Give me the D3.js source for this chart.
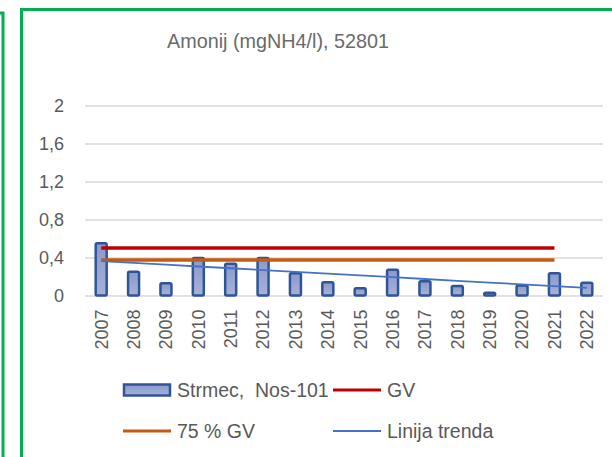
<!DOCTYPE html>
<html>
<head>
<meta charset="utf-8">
<script src="https://cdn.jsdelivr.net/npm/d3@7"></script>
<style>
  body { margin: 0; background: #fff; }
  svg { display: block; font-family: "Liberation Sans", Arial, sans-serif; }
  text { white-space: pre; }
</style>
</head>
<body>
<div id="chart"></div>
<script>
// data
const years = ["2007", "2008", "2009", "2010", "2011", "2012", "2013", "2014",
               "2015", "2016", "2017", "2018", "2019", "2020", "2021", "2022"];
const strmec = [0.55, 0.25, 0.13, 0.395, 0.335, 0.395, 0.235, 0.14,
                0.077, 0.27, 0.15, 0.10, 0.03, 0.105, 0.235, 0.135];
const gv = [0.5, 0.5, 0.5, 0.5, 0.5, 0.5, 0.5, 0.5, 0.5, 0.5, 0.5, 0.5, 0.5, 0.5, 0.5, null];
const gv75 = [0.375, 0.375, 0.375, 0.375, 0.375, 0.375, 0.375, 0.375, 0.375, 0.375, 0.375, 0.375, 0.375, 0.375, 0.375, null];
const yTicks = [0, 0.4, 0.8, 1.2, 1.6, 2];

const W = 612, H = 457;
const margin = {top: 105.5, right: 9, bottom: 161.5, left: 85};
const width = W - margin.left - margin.right;
const height = H - margin.top - margin.bottom;

const svg = d3.select("#chart").append("svg")
  .attr("width", W)
  .attr("height", H);

// green frames
svg.append("path")
  .attr("d", "M0,13 H3 V470")
  .attr("fill", "none").attr("stroke", "#00b050").attr("stroke-width", 3);
svg.append("path")
  .attr("d", "M21.5,470 V9.5 H620")
  .attr("fill", "none").attr("stroke", "#00b050").attr("stroke-width", 3);

svg.append("text")
  .attr("x", 278).attr("y", 48)
  .attr("text-anchor", "middle")
  .attr("font-size", 19.8)
  .attr("fill", "#6a6a6a")
  .text("Amonij (mgNH4/l), 52801");

const g = svg.append("g")
  .attr("transform", "translate(" + margin.left + "," + margin.top + ")");

const xScale = d3.scaleBand().domain(years).range([0, width]);
const yScale = d3.scaleLinear().domain([0, 2]).range([height, 0]);

// gridlines + y labels
const yAxis = g.append("g")
  .call(d3.axisLeft(yScale).tickValues(yTicks).tickSize(-width)
    .tickFormat(d => d3.format(".1~f")(d).replace(".", ",")));
yAxis.select(".domain").remove();
yAxis.selectAll(".tick line").attr("stroke", "#d9d9d9").attr("stroke-width", 1.3);
yAxis.selectAll(".tick text")
  .attr("x", -21)
  .attr("font-size", 18)
  .attr("fill", "#595959");

// x labels
const xAxis = g.append("g")
  .attr("transform", "translate(0," + height + ")")
  .call(d3.axisBottom(xScale).tickSize(0));
xAxis.select(".domain").remove();
xAxis.selectAll(".tick text")
  .attr("transform", "rotate(-90)")
  .attr("x", -14).attr("y", 0).attr("dy", "0.35em")
  .attr("text-anchor", "end")
  .attr("font-size", 18)
  .attr("fill", "#595959");

// bars
const barW = 11;
const grad = svg.append("defs").append("linearGradient")
  .attr("id", "barFill").attr("x1", 0).attr("x2", 0).attr("y1", 0).attr("y2", 1);
grad.append("stop").attr("offset", "0%").attr("stop-color", "#8b99cc");
grad.append("stop").attr("offset", "100%").attr("stop-color", "#a7b2da");

g.selectAll(".bar").data(strmec)
  .enter().append("rect")
  .attr("class", "bar")
  .attr("x", (d, i) => xScale(years[i]) + xScale.bandwidth() / 2 - barW / 2)
  .attr("y", d => yScale(d))
  .attr("width", barW)
  .attr("height", d => yScale(0) - yScale(d))
  .attr("rx", 1.5)
  .attr("fill", "url(#barFill)")
  .attr("stroke", "#2f5597")
  .attr("stroke-width", 2.5);

const cx = (d, i) => xScale(years[i]) + xScale.bandwidth() / 2;

const lineGen = d3.line()
  .defined(d => d != null)
  .x(cx)
  .y(d => yScale(d));

g.append("path").datum(gv)
  .attr("d", lineGen).attr("fill", "none")
  .attr("stroke", "#c00000").attr("stroke-width", 3.5);

g.append("path").datum(gv75)
  .attr("d", lineGen).attr("fill", "none")
  .attr("stroke", "#c55a11").attr("stroke-width", 3.5);

// linear trend of the bar series
const mx = d3.mean(strmec, (d, i) => i);
const my = d3.mean(strmec);
const slope = d3.sum(strmec, (d, i) => (i - mx) * (d - my)) / d3.sum(strmec, (d, i) => (i - mx) * (i - mx));
const trend = strmec.map((d, i) => my + slope * (i - mx));

g.append("path").datum(trend)
  .attr("d", lineGen).attr("fill", "none")
  .attr("stroke", "#4472c4").attr("stroke-width", 1.8);

// legend
const legend = svg.append("g").attr("font-size", 19.5).attr("fill", "#595959");
const items = [
  {label: "Strmec,  Nos-101", type: "bar", x: 123, y: 390},
  {label: "GV", type: "line", color: "#c00000", w: 3, x: 333, y: 390},
  {label: "75 % GV", type: "line", color: "#c55a11", w: 3, x: 123, y: 431},
  {label: "Linija trenda", type: "line", color: "#4472c4", w: 2, x: 333, y: 431}
];
items.forEach(it => {
  if (it.type === "bar") {
    legend.append("rect")
      .attr("x", it.x + 1).attr("y", it.y - 5.5)
      .attr("width", 46).attr("height", 11)
      .attr("fill", "url(#barFill)").attr("stroke", "#2f5597").attr("stroke-width", 2.5);
  } else {
    legend.append("line")
      .attr("x1", it.x).attr("x2", it.x + 48)
      .attr("y1", it.y).attr("y2", it.y)
      .attr("stroke", it.color).attr("stroke-width", it.w);
  }
  legend.append("text")
    .attr("x", it.x + 54).attr("y", it.y).attr("dy", "0.36em")
    .text(it.label);
});
</script>
</body>
</html>
